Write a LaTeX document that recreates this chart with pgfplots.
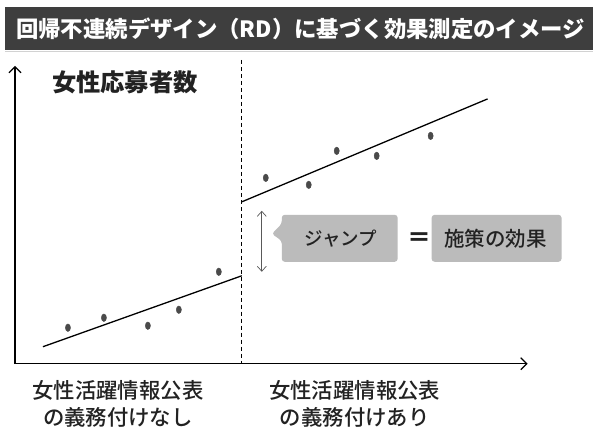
\documentclass[border=0pt]{standalone}
\usepackage{fontspec}
\usepackage{pgfplots}
\pgfplotsset{compat=1.18}
\usetikzlibrary{arrows.meta}
\newfontfamily\jp{Noto Sans CJK JP}
\newfontfamily\jpm{Noto Sans CJK JP Medium}
\definecolor{titlebar}{HTML}{3E3E3E}
\definecolor{boxgray}{HTML}{BBBBBB}
\definecolor{dotgray}{HTML}{4A4A4A}
\definecolor{textdark}{HTML}{222222}

\begin{document}
\begin{tikzpicture}
\begin{axis}[
  scale only axis,width=593pt,height=431pt,
  xmin=0,xmax=593,ymin=0,ymax=431,y dir=reverse,
  hide axis,clip=false
]
% background and title bar
\fill[white] (axis cs:0,0) rectangle (axis cs:593,431);
\fill[titlebar] (axis cs:5,7) rectangle (axis cs:593,50);
\draw[gray!35,line width=1pt] (axis cs:5,52) -- (axis cs:593,52);
\node[anchor=west,text=white,font=\jp\bfseries\fontsize{22.4}{25}\selectfont,inner sep=0pt]
  at (axis cs:16,29) {回帰不連続デザイン（RD）に基づく効果測定のイメージ};

% axes
\draw[black,line width=1.2pt,-{Straight Barb[length=6pt,width=12pt]}] (axis cs:15,364) -- (axis cs:15,66);
\draw[black,line width=1.2pt,-{Straight Barb[length=6pt,width=12pt]}] (axis cs:15,364) -- (axis cs:528,364);
\draw[black,line width=0.8pt,dash pattern=on 4pt off 3pt] (axis cs:242,60) -- (axis cs:242,364);

\node[anchor=west,text=textdark,font=\jp\bfseries\fontsize{24.3}{26}\selectfont,inner sep=0pt]
  at (axis cs:52,82) {女性応募者数};

% fitted lines
\addplot[black,line width=1.3pt] coordinates {(43,347) (242,276)};
\addplot[black,line width=1.3pt] coordinates {(242,202) (488,99)};

% observations
\addplot[only marks,mark=*,mark size=3.8pt,mark options={xscale=0.68,fill=dotgray,draw=dotgray},color=dotgray]
  coordinates {(68,328) (104,318) (148,326) (179,310) (219,272)};
\addplot[only marks,mark=*,mark size=3.8pt,mark options={xscale=0.68,fill=dotgray,draw=dotgray},color=dotgray]
  coordinates {(266,178) (309,185) (337,151) (377,156) (431,136)};

% jump arrow
\draw[gray!70!black,line width=0.7pt,{Straight Barb[length=5pt,width=9pt]}-{Straight Barb[length=5pt,width=9pt]}]
  (axis cs:262,211) -- (axis cs:262,272);

% callouts
\fill[boxgray,rounded corners=3pt] (axis cs:282,215) -- (axis cs:398,215) -- (axis cs:398,262)
  -- (axis cs:282,262) -- (axis cs:282,241) -- (axis cs:272,234) -- (axis cs:282,224) -- cycle;
\node[text=textdark,font=\jpm\fontsize{18.5}{20}\selectfont,inner sep=0pt] at (axis cs:341,239) {ジャンプ};
\node[text=textdark,font=\jp\bfseries\fontsize{24}{26}\selectfont,inner sep=0pt] at (axis cs:420,240) {＝};
\fill[boxgray,rounded corners=3pt] (axis cs:432,215) rectangle (axis cs:562,262);
\node[text=textdark,font=\jpm\fontsize{20.5}{22}\selectfont,inner sep=0pt] at (axis cs:496,239) {施策の効果};

% group labels
\node[text=textdark,font=\jpm\fontsize{21.4}{27}\selectfont,align=center,inner sep=0pt]
  at (axis cs:118,404) {女性活躍情報公表\\の義務付けなし};
\node[text=textdark,font=\jpm\fontsize{21.4}{27}\selectfont,align=center,inner sep=0pt]
  at (axis cs:355,404) {女性活躍情報公表\\の義務付けあり};
\end{axis}
\end{tikzpicture}
\end{document}
